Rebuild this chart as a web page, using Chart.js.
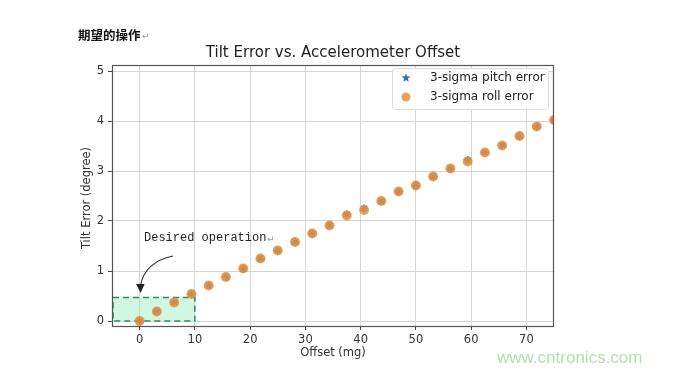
<!DOCTYPE html>
<html>
<head>
<meta charset="utf-8">
<script src="https://cdn.jsdelivr.net/npm/chart.js@4"></script>
<style>
  html, body { margin: 0; padding: 0; background: #fff; }
  #wrap { position: relative; width: 679px; height: 372px; }
</style>
</head>
<body>
<div id="wrap"><canvas id="chart" width="679" height="372"></canvas></div>
<script>
// offsets in mg
const offsets = [0, 3.125, 6.25, 9.375, 12.5, 15.625, 18.75, 21.875, 25, 28.125, 31.25, 34.375,
                 37.5, 40.625, 43.75, 46.875, 50, 53.125, 56.25, 59.375, 62.5, 65.625, 68.75, 71.875, 75];
const pitchError = [0, 0.19, 0.37, 0.54, 0.71, 0.88, 1.05, 1.25, 1.41, 1.58, 1.75, 1.91,
                    2.13, 2.25, 2.40, 2.59, 2.71, 2.89, 3.05, 3.22, 3.37, 3.51, 3.70, 3.89, 4.02];
const rollError = [0, 0.19, 0.37, 0.54, 0.71, 0.88, 1.05, 1.25, 1.41, 1.58, 1.75, 1.91,
                   2.11, 2.22, 2.40, 2.59, 2.71, 2.89, 3.05, 3.19, 3.37, 3.51, 3.70, 3.89, 4.02];
const xTicks = [0, 10, 20, 30, 40, 50, 60, 70];
const yTicks = [0, 1, 2, 3, 4, 5];
// desired operation region (x from, x to, y from, y to)
const desiredBox = [-5, 10, 0, 0.47];

const toPoints = (ys) => offsets.map((x, i) => ({ x: x, y: ys[i] }));

const textFont = '"DejaVu Sans", sans-serif';

function drawStar(ctx, cx, cy, r, color) {
  ctx.save();
  ctx.fillStyle = color;
  ctx.beginPath();
  for (let i = 0; i < 10; i++) {
    const ang = -Math.PI / 2 + i * Math.PI / 5;
    const rr = i % 2 === 0 ? r : r * 0.45;
    const px = cx + rr * Math.cos(ang), py = cy + rr * Math.sin(ang);
    if (i === 0) ctx.moveTo(px, py); else ctx.lineTo(px, py);
  }
  ctx.closePath();
  ctx.fill();
  ctx.restore();
}

const overlay = {
  id: 'overlay',
  beforeDatasetsDraw(chart) {
    const { ctx, scales: { x, y } } = chart;
    const x0 = x.getPixelForValue(desiredBox[0]), x1 = x.getPixelForValue(desiredBox[1]);
    const y0 = y.getPixelForValue(desiredBox[2]), y1 = y.getPixelForValue(desiredBox[3]);
    ctx.save();
    ctx.fillStyle = 'rgba(150, 235, 195, 0.45)';
    ctx.fillRect(x0, y1, x1 - x0, y0 - y1);
    ctx.setLineDash([6, 4]);
    ctx.strokeStyle = '#2d8f5e';
    ctx.lineWidth = 1.6;
    ctx.strokeRect(x0 + 1, y1, x1 - x0 - 1, y0 - y1);
    ctx.restore();
  },
  afterDraw(chart) {
    const { ctx, chartArea: a, scales: { x, y } } = chart;
    ctx.save();
    // frame
    ctx.strokeStyle = '#555';
    ctx.lineWidth = 1.2;
    ctx.strokeRect(a.left + 0.5, a.top + 0.5, a.right - a.left - 1, a.bottom - a.top);

    // legend
    const ds = chart.data.datasets;
    ctx.fillStyle = 'rgba(255,255,255,0.9)';
    ctx.strokeStyle = '#dcdcdc';
    ctx.lineWidth = 1;
    ctx.beginPath();
    ctx.roundRect(392.5, 68.5, 156, 41, 3);
    ctx.fill();
    ctx.stroke();
    drawStar(ctx, 406, 78, 4.5, ds[0].backgroundColor);
    ctx.fillStyle = ds[1].backgroundColor;
    ctx.beginPath();
    ctx.arc(406, 97, 4.5, 0, Math.PI * 2);
    ctx.fill();
    ctx.fillStyle = '#222';
    ctx.font = '12px ' + textFont;
    ctx.textAlign = 'left';
    ctx.textBaseline = 'middle';
    ctx.fillText(ds[0].label, 430, 78);
    ctx.fillText(ds[1].label, 430, 97);

    // header
    ctx.fillStyle = '#111';
    ctx.font = 'bold 12.5px "Noto Sans CJK SC", sans-serif';
    ctx.fillText('期望的操作', 78, 35);
    ctx.fillStyle = '#999';
    ctx.font = '9px "DejaVu Sans", sans-serif';
    ctx.fillText('↵', 142, 37);

    // title
    ctx.fillStyle = '#222';
    ctx.font = '15px ' + textFont;
    ctx.textAlign = 'center';
    ctx.fillText('Tilt Error vs. Accelerometer Offset', (a.left + a.right) / 2, 53);

    // axis titles
    ctx.font = '11.5px ' + textFont;
    ctx.fillStyle = '#333';
    ctx.fillText('Offset (mg)', (a.left + a.right) / 2, 353);
    ctx.save();
    ctx.translate(87, 198);
    ctx.rotate(-Math.PI / 2);
    ctx.fillText('Tilt Error (degree)', 0, 0);
    ctx.restore();

    // annotation
    ctx.textAlign = 'left';
    ctx.fillStyle = '#222';
    ctx.font = '12px "Liberation Mono", monospace';
    ctx.fillText('Desired operation', 144, 238);
    ctx.fillStyle = '#999';
    ctx.font = '9px "DejaVu Sans", sans-serif';
    ctx.fillText('↵', 267, 240);

    // arrow pointing at the box
    const tx = x.getPixelForValue(0), ty = y.getPixelForValue(0.6);
    ctx.strokeStyle = '#333';
    ctx.lineWidth = 1.2;
    ctx.beginPath();
    ctx.moveTo(173, 256);
    ctx.quadraticCurveTo(145, 262, tx + 1, ty - 6);
    ctx.stroke();
    ctx.fillStyle = '#222';
    ctx.beginPath();
    ctx.moveTo(tx + 1, ty + 2);
    ctx.lineTo(tx - 3.5, ty - 7);
    ctx.lineTo(tx + 5, ty - 7);
    ctx.closePath();
    ctx.fill();

    // watermark
    ctx.fillStyle = '#b9dcb2';
    ctx.font = '17px "Liberation Sans", sans-serif';
    ctx.fillText('www.cntronics.com', 497, 358);
    ctx.restore();
  }
};

new Chart(document.getElementById('chart').getContext('2d'), {
  type: 'scatter',
  data: {
    datasets: [
      {
        label: '3-sigma pitch error',
        data: toPoints(pitchError),
        pointStyle: 'star',
        pointRadius: 4,
        borderColor: '#2a77b4',
        backgroundColor: '#2a77b4',
        borderWidth: 1.5,
        order: 2
      },
      {
        label: '3-sigma roll error',
        data: toPoints(rollError),
        pointStyle: 'circle',
        pointRadius: 5,
        borderColor: 'rgba(232, 142, 60, 0.85)',
        backgroundColor: 'rgba(232, 142, 60, 0.85)',
        borderWidth: 0,
        order: 1
      }
    ]
  },
  options: {
    responsive: false,
    animation: false,
    layout: { padding: { top: 65, right: 125, left: 0, bottom: 0 } },
    plugins: {
      title: { display: false },
      tooltip: { enabled: false },
      legend: { display: false }
    },
    scales: {
      x: {
        type: 'linear',
        min: -5,
        max: 75,
        afterBuildTicks: (s) => { s.ticks = xTicks.map(v => ({ value: v })); },
        afterFit: (s) => { s.height = 46; },
        grid: { color: '#d6d6d6', tickColor: '#444', tickLength: 4 },
        border: { display: false },
        ticks: { color: '#333', padding: 3, font: { family: 'DejaVu Sans', size: 11.5 } }
      },
      y: {
        type: 'linear',
        min: -0.1,
        max: 5.12,
        afterBuildTicks: (s) => { s.ticks = yTicks.map(v => ({ value: v })); },
        afterFit: (s) => { s.width = 112; },
        grid: { color: '#d6d6d6', tickColor: '#444', tickLength: 4 },
        border: { display: false },
        ticks: { color: '#333', padding: 4, font: { family: 'DejaVu Sans', size: 11.5 } }
      }
    }
  },
  plugins: [overlay]
});
</script>
</body>
</html>
